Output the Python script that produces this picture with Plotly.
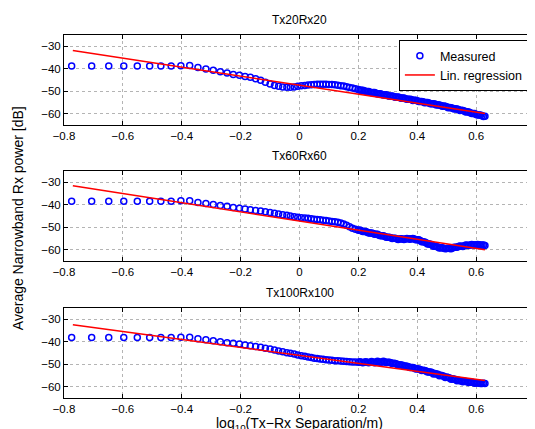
import plotly.graph_objects as go
from plotly.subplots import make_subplots

# shared measurement grid, log10(distance / m)
x_meas = [-0.774, -0.706, -0.648, -0.597, -0.551, -0.509, -0.471, -0.436, -0.403, -0.373,
          -0.345, -0.318, -0.293, -0.269, -0.246, -0.225, -0.204, -0.185, -0.167, -0.149,
          -0.132, -0.116, -0.100, -0.085, -0.071, -0.057, -0.043, -0.031, -0.018, -0.006,
          0.006, 0.018, 0.029, 0.040, 0.050, 0.060, 0.070, 0.080, 0.090, 0.100,
          0.11, 0.12, 0.13, 0.14, 0.15, 0.16, 0.17, 0.18, 0.19, 0.20,
          0.21, 0.22, 0.23, 0.24, 0.25, 0.26, 0.27, 0.28, 0.29, 0.30,
          0.31, 0.32, 0.33, 0.34, 0.35, 0.36, 0.37, 0.38, 0.39, 0.40,
          0.41, 0.42, 0.43, 0.44, 0.45, 0.46, 0.47, 0.48, 0.49, 0.50,
          0.51, 0.52, 0.53, 0.54, 0.55, 0.56, 0.57, 0.58, 0.59, 0.60,
          0.61, 0.62, 0.63,
          # denser samples at the far end
          0.205, 0.215, 0.225, 0.235, 0.245, 0.255, 0.265, 0.275, 0.285, 0.295,
          0.305, 0.315, 0.325, 0.335, 0.345, 0.355, 0.365, 0.375, 0.385, 0.395,
          0.405, 0.415, 0.425, 0.435, 0.445, 0.455, 0.465, 0.475, 0.485, 0.495,
          0.505, 0.515, 0.525, 0.535, 0.545, 0.555, 0.565, 0.575, 0.585, 0.595,
          0.605, 0.615, 0.625]

p_tx20 = [-38.8, -38.8, -38.8, -38.8, -38.8, -38.8, -38.8, -38.8, -38.7, -38.5,
          -39.4, -40.1, -40.7, -41.3, -41.9, -42.5, -42.9, -43.4, -43.8, -44.4,
          -45.1, -46.0, -46.8, -47.4, -47.8, -48.1, -48.2, -48.2, -48.1, -47.8,
          -47.6, -47.4, -47.2, -47.1, -47.0, -46.9, -46.9, -46.9, -46.9, -47.0,
          -47.0, -47.1, -47.3, -47.5, -47.7, -48.0, -48.3, -48.6, -48.9, -49.2,
          -49.5, -49.8, -50.1, -50.4, -50.6, -50.9, -51.1, -51.4, -51.6, -51.9,
          -52.1, -52.3, -52.6, -52.8, -53.0, -53.3, -53.5, -53.7, -54.0, -54.2,
          -54.5, -54.7, -55.0, -55.2, -55.5, -55.7, -56.0, -56.3, -56.6, -56.9,
          -57.2, -57.5, -57.8, -58.1, -58.4, -58.8, -59.1, -59.5, -59.9, -60.3,
          -60.6, -60.9, -61.1,
          -49.5, -49.5, -50.1, -50.1, -50.7, -50.6, -51.2, -51.1, -51.7, -51.6,
          -52.2, -52.1, -52.7, -52.6, -53.1, -53.0, -53.6, -53.5, -54.1, -54.0,
          -54.6, -54.5, -55.1, -55.0, -55.6, -55.5, -56.1, -56.1, -56.7, -56.7,
          -57.3, -57.3, -57.9, -57.9, -58.5, -58.5, -59.2, -59.2, -59.9, -59.9,
          -60.6, -60.6, -61.2]

p_tx60 = [-38.4, -38.4, -38.4, -38.4, -38.4, -38.4, -38.4, -38.4, -38.2, -38.2,
          -39.0, -39.4, -39.9, -40.3, -40.7, -41.2, -41.6, -41.9, -42.2, -42.5,
          -42.8, -43.1, -43.4, -43.8, -44.1, -44.4, -44.7, -45.0, -45.3, -45.6,
          -45.8, -45.9, -46.0, -46.2, -46.4, -46.5, -46.7, -46.9, -47.0, -47.2,
          -47.4, -47.6, -47.8, -48.1, -48.5, -49.1, -49.8, -50.4, -50.9, -51.3,
          -51.6, -51.9, -52.2, -52.5, -52.8, -53.1, -53.5, -53.8, -54.1, -54.4,
          -54.7, -54.9, -55.1, -55.2, -55.2, -55.2, -55.1, -55.1, -55.2, -55.5,
          -55.9, -56.4, -56.9, -57.4, -57.9, -58.4, -58.8, -59.1, -59.3, -59.4,
          -59.4, -59.2, -58.9, -58.6, -58.4, -58.2, -58.0, -57.9, -57.8, -57.8,
          -57.8, -57.9, -58.1,
          -51.2, -51.9, -51.9, -52.5, -52.5, -53.1, -53.1, -53.8, -53.8, -54.4,
          -54.4, -55.0, -54.9, -55.4, -55.1, -55.4, -55.0, -55.3, -55.0, -55.6,
          -55.5, -56.4, -56.5, -57.4, -57.5, -58.4, -58.5, -59.2, -59.1, -59.6,
          -59.3, -59.5, -58.9, -58.9, -58.3, -58.5, -57.9, -58.1, -57.7, -58.0,
          -57.7, -58.0, -57.9]

p_tx100 = [-38.1, -38.1, -38.1, -38.1, -38.1, -38.1, -38.1, -38.1, -38.0, -38.0,
           -38.7, -39.1, -39.6, -40.0, -40.4, -40.7, -41.0, -41.5, -41.8, -42.1,
           -42.5, -42.9, -43.2, -43.7, -44.1, -44.4, -44.9, -45.1, -45.4, -45.9,
           -46.2, -46.5, -46.8, -47.0, -47.3, -47.5, -47.7, -47.8, -48.0, -48.1,
           -48.2, -48.4, -48.5, -48.6, -48.7, -48.8, -48.9, -49.0, -49.0, -49.1,
           -49.1, -49.1, -49.1, -49.1, -49.1, -49.0, -49.0, -49.0, -49.0, -49.1,
           -49.3, -49.6, -49.9, -50.2, -50.5, -50.8, -51.1, -51.4, -51.7, -52.0,
           -52.3, -52.7, -53.0, -53.4, -53.7, -54.1, -54.5, -54.9, -55.3, -55.7,
           -56.1, -56.5, -56.8, -57.1, -57.4, -57.6, -57.8, -58.0, -58.1, -58.3,
           -58.4, -58.5, -58.6,
           -48.9, -49.3, -48.9, -49.3, -48.8, -49.3, -48.7, -49.2, -48.7, -49.2,
           -49.1, -49.7, -49.7, -50.3, -50.3, -50.9, -50.9, -51.5, -51.5, -52.1,
           -52.1, -52.8, -52.8, -53.5, -53.5, -54.3, -54.3, -55.1, -55.1, -55.9,
           -55.9, -56.7, -56.7, -57.3, -57.3, -57.8, -57.7, -58.1, -58.0, -58.4,
           -58.2, -58.6, -58.4]

# linear regression end points
x_reg = [-0.77, 0.63]
reg_tx20 = [-31.9, -59.9]
reg_tx60 = [-31.6, -60.0]
reg_tx100 = [-32.5, -57.2]

titles = ['Tx20Rx20', 'Tx60Rx60', 'Tx100Rx100']
measured = [p_tx20, p_tx60, p_tx100]
regress = [reg_tx20, reg_tx60, reg_tx100]

FONT = 'Liberation Sans, Arial, sans-serif'

fig = make_subplots(rows=3, cols=1)

for i in range(3):
    fig.add_trace(go.Scatter(x=x_meas, y=measured[i], mode='markers', name='Measured',
                             marker=dict(symbol='circle-open', size=6, color='#0000ff',
                                         line=dict(width=1.5, color='#0000ff')),
                             showlegend=(i == 0)), row=i + 1, col=1)
    fig.add_trace(go.Scatter(x=x_reg, y=regress[i], mode='lines', name='Lin. regression',
                             line=dict(color='#ff0000', width=1.5),
                             showlegend=(i == 0)), row=i + 1, col=1)

domains = [[0.752, 1.0], [0.3774, 0.6253], [0.0, 0.248]]
axis_style = dict(showline=True, linecolor='black', linewidth=1, mirror='ticks',
                  ticks='inside', ticklen=4, tickcolor='black', automargin=False,
                  showgrid=True, gridcolor='#b4b4b4', griddash='dot', gridwidth=1,
                  zeroline=False, tickfont=dict(size=11.5, color='black', family=FONT))

for i in range(3):
    fig.update_xaxes(range=[-0.8, 0.8], tickvals=[-0.8, -0.6, -0.4, -0.2, 0, 0.2, 0.4, 0.6, 0.8],
                     ticktext=['\u22120.8', '\u22120.6', '\u22120.4', '\u22120.2', '0', '0.2', '0.4', '0.6', '0.8'],
                     **axis_style, row=i + 1, col=1)
    fig.update_yaxes(range=[-65, -25], tickvals=[-60, -50, -40, -30],
                     ticktext=['\u221260', '\u221250', '\u221240', '\u221230'],
                     domain=domains[i], **axis_style, row=i + 1, col=1)

title_y = [1.016, 0.642, 0.265]
for i in range(3):
    fig.add_annotation(text=titles[i], xref='paper', yref='paper', x=0.5, y=title_y[i],
                       xanchor='center', yanchor='bottom', showarrow=False,
                       font=dict(size=12, color='black', family=FONT))

fig.add_annotation(text='Average Narrowband Rx power [dB]', xref='paper', yref='paper',
                   x=-0.098, y=0.495, textangle=-90, showarrow=False,
                   xanchor='center', yanchor='middle',
                   font=dict(size=14, color='black', family=FONT))
fig.add_annotation(text='log<sub>10</sub>(Tx\u2212Rx Separation/m)', xref='paper', yref='paper',
                   x=0.5, y=-0.04, showarrow=False, xanchor='center', yanchor='top',
                   font=dict(size=14, color='black', family=FONT))

fig.update_layout(width=535, height=429,
                  margin=dict(l=56, r=8, t=27, b=39, autoexpand=False),
                  paper_bgcolor='white', plot_bgcolor='white',
                  font=dict(family=FONT, size=11, color='black'),
                  legend=dict(x=0.987, y=0.986, xanchor='right', yanchor='top',
                              bgcolor='white', bordercolor='black', borderwidth=1,
                              itemwidth=30, tracegroupgap=0,
                              font=dict(size=12.5, color='black', family=FONT)))

fig.write_html('out.html')
